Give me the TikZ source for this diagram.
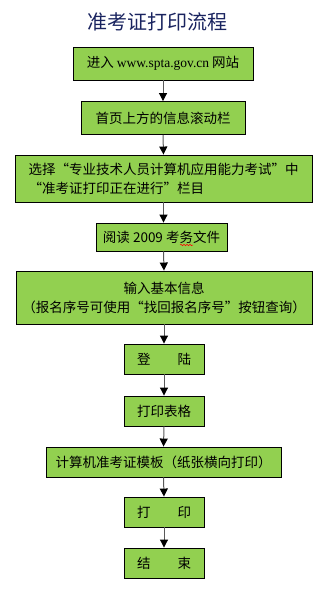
\documentclass[tikz,border=0pt]{standalone}
\usepackage{fontspec}
\setmainfont{Noto Sans CJK SC}
\newfontfamily\latinserif{Liberation Serif}
\usetikzlibrary{arrows.meta,decorations.pathmorphing}
\definecolor{boxgreen}{RGB}{146,208,80}
\definecolor{titleblue}{RGB}{25,35,95}
\tikzset{
  stepbox/.style={draw=black,line width=0.9pt,fill=boxgreen,minimum height=30pt,inner sep=0pt,font=\fontsize{13.5}{19}\selectfont},
  flow/.style={draw=black!65,line width=1pt,-{Triangle[length=8pt,width=8pt,black]}}
}
\begin{document}
\begin{tikzpicture}[x=1pt,y=-1pt]
\path[use as bounding box] (0,0) rectangle (319,591);
\node[font=\fontsize{20}{24}\selectfont,text=titleblue] (title) at (157.5,22) {准考证打印流程};
\node[stepbox,minimum width=180pt,minimum height=33pt] (enter) at (163,63.5) {进入 {\latinserif www.spta.gov.cn} 网站};
\node[stepbox,minimum width=164pt,minimum height=33pt] (scroll) at (163,118) {首页上方的信息滚动栏};
\node[stepbox,minimum width=297pt,minimum height=47pt,align=left] (column) at (163.5,178.5) {选择“专业技术人员计算机应用能力考试”中\\“准考证打印正在进行”栏目};
\node[stepbox,minimum width=131pt,minimum height=28pt] (read) at (161.5,237) {阅读 2009 考务文件};
\node[stepbox,minimum width=296pt,minimum height=53pt,align=center] (info) at (164,297.5) {输入基本信息\\（报名序号可使用“找回报名序号”按钮查询）};
\node[stepbox,minimum width=80pt] (login) at (164,359) {登\hspace{2em}陆};
\node[stepbox,minimum width=80pt] (form) at (164,411) {打印表格};
\node[stepbox,minimum width=235pt] (tmpl) at (163.5,462) {计算机准考证模板（纸张横向打印）};
\node[stepbox,minimum width=80pt] (print) at (164,512) {打\hspace{2em}印};
\node[stepbox,minimum width=80pt] (done) at (164,563) {结\hspace{2em}束};
\draw[flow] (enter.south) -- (scroll.north);
\draw[flow] (scroll.south) -- (column.north);
\draw[flow] (column.south) -- (column.south |- read.north);
\draw[flow] (column.south |- read.south) -- (info.north);
\draw[flow] (info.south) -- (login.north);
\draw[flow] (login.south) -- (form.north);
\draw[flow] (form.south) -- (tmpl.north);
\draw[flow] (tmpl.south) -- (print.north);
\draw[flow] (print.south) -- (done.north);
\draw[red,line width=0.5pt,decorate,decoration={snake,amplitude=0.7pt,segment length=3pt}] (180,245) -- (193,245);
\end{tikzpicture}
\end{document}
